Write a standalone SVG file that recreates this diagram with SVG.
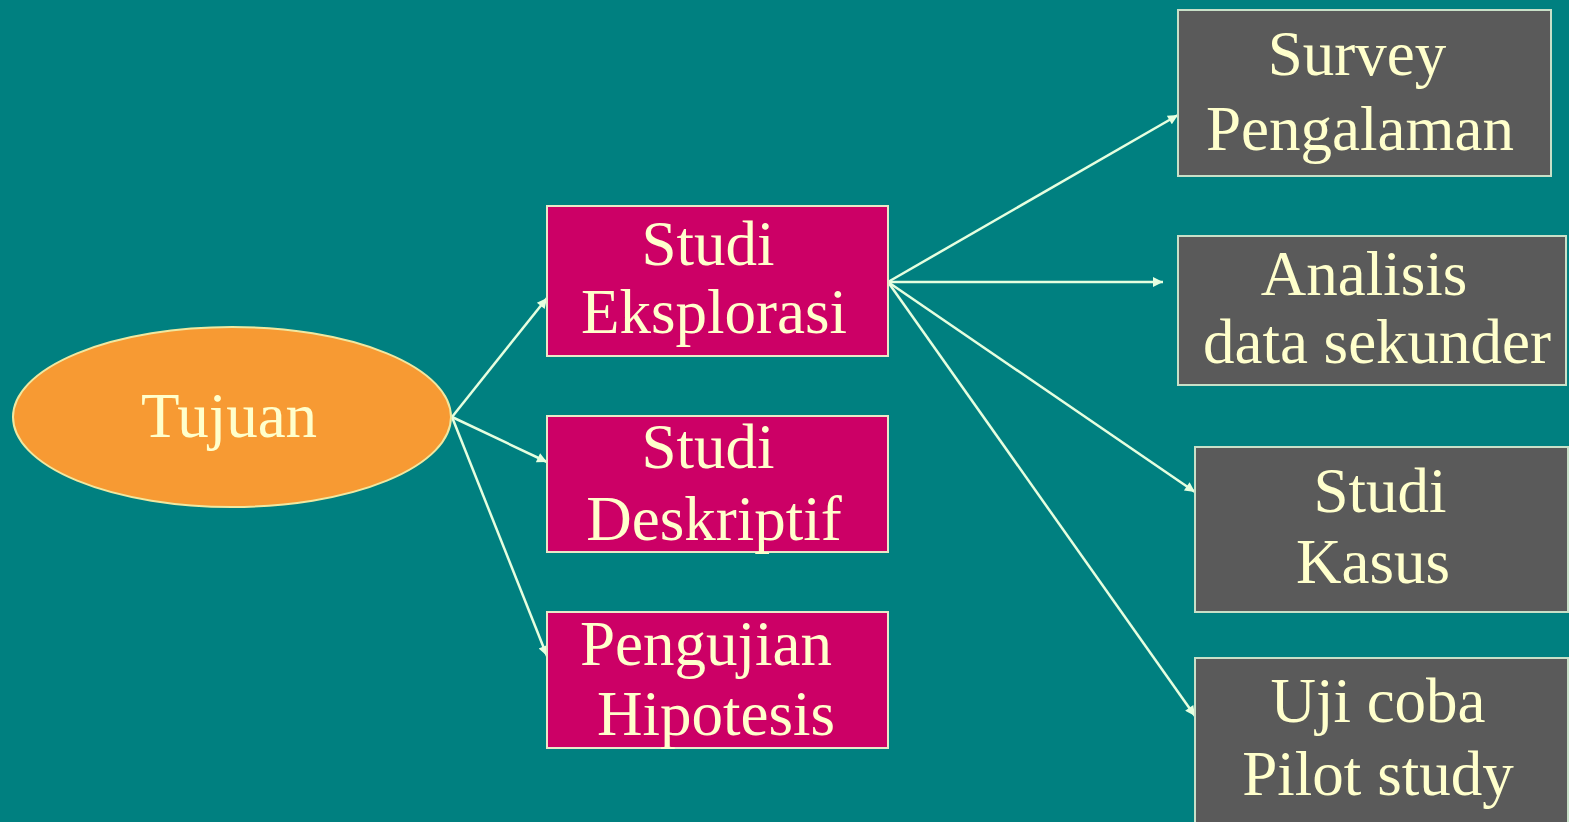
<svg xmlns="http://www.w3.org/2000/svg" width="1569" height="822" viewBox="0 0 1569 822">
<defs>
<style>
.t{font-family:'Liberation Serif','Times New Roman',serif;font-size:63px;fill:#FFFFCC;text-anchor:middle}
.m{fill:#CC0066;stroke:#E8E8C8;stroke-width:2}
.g{fill:#5A5A5A;stroke:#C8E0C8;stroke-width:2}
.c{stroke:#E6FFE0;stroke-width:2.5;fill:none;marker-end:url(#ah)}
</style>
<marker id="ah" viewBox="0 0 10 10" refX="10" refY="5" markerWidth="13" markerHeight="10" markerUnits="userSpaceOnUse" orient="auto">
<path d="M0,0 L10,5 L0,10 z" fill="#E6FFE0"/>
</marker>
</defs>
<rect width="1569" height="822" fill="#008080"/>
<g id="connectors">
<line class="c" x1="452" y1="417" x2="547" y2="298"/>
<line class="c" x1="452" y1="417" x2="547" y2="462"/>
<line class="c" x1="452" y1="417" x2="547" y2="656"/>
<line class="c" x1="888" y1="282" x2="1178" y2="115"/>
<line class="c" x1="888" y1="282" x2="1163" y2="282"/>
<line class="c" x1="888" y1="282" x2="1195" y2="492"/>
<line class="c" x1="888" y1="282" x2="1195" y2="716"/>
</g>
<g id="tujuan" font-family="Liberation Serif, serif">
<ellipse cx="232" cy="417" rx="219" ry="90" fill="#F79A33" stroke="#F0E8A0" stroke-width="2"/>
<text class="t" x="229" y="437">Tujuan</text>
</g>
<g id="eksplorasi" font-family="Liberation Serif, serif">
<rect class="m" x="547" y="206" width="341" height="150"/>
<text class="t" x="708" y="265">Studi</text>
<text class="t" x="714" y="333">Eksplorasi</text>
</g>
<g id="deskriptif" font-family="Liberation Serif, serif">
<rect class="m" x="547" y="416" width="341" height="136"/>
<text class="t" x="708" y="468">Studi</text>
<text class="t" x="714" y="540">Deskriptif</text>
</g>
<g id="hipotesis" font-family="Liberation Serif, serif">
<rect class="m" x="547" y="612" width="341" height="136"/>
<text class="t" x="706" y="665">Pengujian</text>
<text class="t" x="716" y="735">Hipotesis</text>
</g>
<g id="survey" font-family="Liberation Serif, serif">
<rect class="g" x="1178" y="10" width="373" height="166"/>
<text class="t" x="1357" y="75">Survey</text>
<text class="t" x="1360" y="150">Pengalaman</text>
</g>
<g id="analisis" font-family="Liberation Serif, serif">
<rect class="g" x="1178" y="236" width="388" height="149"/>
<text class="t" x="1364" y="295">Analisis</text>
<text class="t" x="1377" y="363">data sekunder</text>
</g>
<g id="kasus" font-family="Liberation Serif, serif">
<rect class="g" x="1195" y="447" width="373" height="165"/>
<text class="t" x="1380" y="512">Studi</text>
<text class="t" x="1373" y="583">Kasus</text>
</g>
<g id="pilot" font-family="Liberation Serif, serif">
<rect class="g" x="1195" y="658" width="373" height="170"/>
<text class="t" x="1378" y="722">Uji coba</text>
<text class="t" x="1378" y="795">Pilot study</text>
</g>
</svg>
